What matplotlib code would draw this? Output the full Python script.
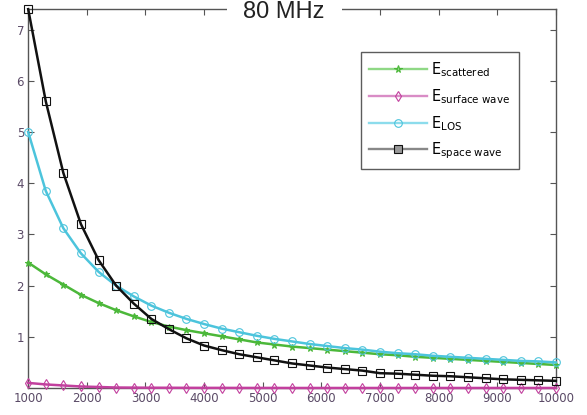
import numpy as np
import matplotlib
matplotlib.use('Agg')
import matplotlib.pyplot as plt
from matplotlib.lines import Line2D

# distance (m), markers every 300 m
distance = np.arange(1000, 10001, 300)

e_scattered = [2.45, 2.22, 2.02, 1.82, 1.66, 1.52, 1.40, 1.29, 1.20, 1.13, 1.07,
               1.01, 0.95, 0.89, 0.85, 0.81, 0.78, 0.75, 0.72, 0.69, 0.66, 0.64,
               0.61, 0.59, 0.57, 0.55, 0.53, 0.51, 0.49, 0.47, 0.45]
e_surface = [0.10, 0.07, 0.05, 0.03, 0.02, 0.01, 0.008, 0.006, 0.005, 0.004, 0.003,
             0.003, 0.002, 0.002, 0.002, 0.001, 0.001, 0.001, 0.001, 0.001, 0.001, 0.001,
             0.001, 0.001, 0.001, 0.001, 0.001, 0.001, 0.001, 0.001, 0.001]
e_los = [5.00, 3.85, 3.12, 2.63, 2.27, 2.00, 1.79, 1.61, 1.47, 1.35, 1.25,
         1.16, 1.09, 1.02, 0.96, 0.91, 0.86, 0.82, 0.78, 0.75, 0.71, 0.68,
         0.66, 0.63, 0.61, 0.59, 0.57, 0.55, 0.53, 0.52, 0.50]
e_space = [7.40, 5.60, 4.20, 3.20, 2.50, 2.00, 1.65, 1.35, 1.15, 0.97, 0.83,
           0.74, 0.66, 0.60, 0.54, 0.48, 0.44, 0.40, 0.37, 0.34, 0.29, 0.28,
           0.26, 0.24, 0.23, 0.21, 0.19, 0.17, 0.16, 0.15, 0.14]

labels = ['E$_{\\mathregular{scattered}}$', 'E$_{\\mathregular{surface\\ wave}}$',
          'E$_{\\mathregular{LOS}}$', 'E$_{\\mathregular{space\\ wave}}$']
colors = ['#4cb83a', '#c2409e', '#4cc4dc', '#111111']
legend_colors = ['#8fd885', '#d98cc6', '#8cdcec', '#888888']
markers = ['*', 'd', 'o', 's']

fig = plt.figure(figsize=(5.87, 4.15), dpi=100)
ax = fig.add_axes([0.048, 0.065, 0.899, 0.913])

series = [e_scattered, e_surface, e_los, e_space]
for vals, c, m in zip(series, colors, markers):
    ms = 4.5 if m == '*' else 5.5
    ax.plot(distance, vals, color=c, lw=1.8, marker=m, ms=ms,
            mfc='none' if m != '*' else c, mec=c, mew=0.8, clip_on=False, zorder=3)

ax.set_xlim(1000, 10000)
ax.set_ylim(0, 7.4)
ax.set_xticks(np.arange(1000, 10001, 1000))
ax.set_yticks([1, 2, 3, 4, 5, 6, 7])
ax.tick_params(direction='in', top=True, right=True, length=4, width=0.8,
               colors='#555555', labelcolor='#5a4a66', labelsize=8.5, pad=3)
for sp in ax.spines.values():
    sp.set_color('#555555')
    sp.set_linewidth(1)

handles = [Line2D([], [], color=lc, lw=1.7, marker=m, ms=5.5,
                  mfc='none' if m not in ('*', 's') else ('#999999' if m == 's' else lc),
                  mec=c, mew=0.8)
           for lc, c, m in zip(legend_colors, colors, markers)]
leg = ax.legend(handles, labels, loc='upper right', bbox_to_anchor=(0.943, 0.905),
                fontsize=10.5, frameon=True, fancybox=False, handlelength=4.0,
                labelspacing=0.55, borderpad=0.55, handletextpad=0.3)
leg.get_frame().set_edgecolor('#333333')
leg.get_frame().set_linewidth(1)

fig.text(0.484, 0.970, '80 MHz', ha='center', va='center', fontsize=17,
         family=['Liberation Sans', 'DejaVu Sans'], color='#222222',
         bbox=dict(facecolor='white', edgecolor='none', pad=12))

fig.savefig('out.png', dpi=100)
